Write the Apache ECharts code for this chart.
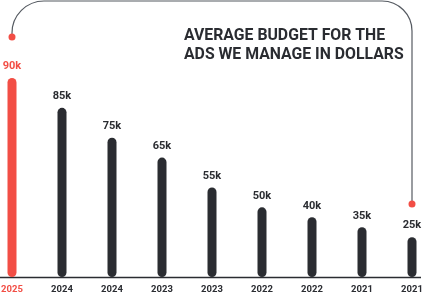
<!DOCTYPE html>
<html><head><meta charset="utf-8">
<script src="https://cdn.jsdelivr.net/npm/echarts@6/dist/echarts.min.js"></script>
<style>html,body{margin:0;padding:0;background:#fff;}#c{width:424px;height:295px;}</style>
</head><body><div id="c"></div>
<script>
var years = ['2025','2024','2024','2023','2023','2022','2022','2021','2021'];
var valueLabels = ['90k','85k','75k','65k','55k','50k','40k','35k','25k'];
// relative bar heights as drawn in the picture (tallest = 100)
var barLevels = [100, 85, 70, 60, 45, 35, 30, 25, 20];
var titleLines = ['AVERAGE BUDGET FOR THE', 'ADS WE MANAGE IN DOLLARS'];

var RED = '#f24e45', DARK = '#2a2c31', LINE = '#555a61';
var FONT = 'Roboto';
var lineStyle = {stroke: LINE, lineWidth: 1.2, fill: null};
var chart = echarts.init(document.getElementById('c'), null, {renderer: 'canvas'});
chart.setOption({
  animation: false,
  grid: {left: -13, width: 450, top: 78, bottom: 18, containLabel: false, outerBoundsMode: 'none'},
  xAxis: {
    type: 'category', data: years, boundaryGap: true,
    axisLine: {show: false}, axisTick: {show: false},
    axisLabel: {
      margin: 8, fontFamily: FONT, fontWeight: 'bold', fontSize: 9.5,
      color: function (v, i) { return i === 0 ? RED : DARK; }
    }
  },
  yAxis: {type: 'value', min: 0, max: 100, show: false, splitLine: {show: false}},
  graphic: [
    {type: 'line', z: 0, shape: {x1: 0, y1: 277.5, x2: 421, y2: 277.5}, style: {stroke: DARK, lineWidth: 1.5}},
    {type: 'line', z: 0, shape: {x1: 12, y1: 37, x2: 12, y2: 33}, style: lineStyle},
    {type: 'arc', z: 0, shape: {cx: 44, cy: 33, r: 32, startAngle: Math.PI, endAngle: Math.PI * 1.5}, style: lineStyle},
    {type: 'line', z: 0, shape: {x1: 44, y1: 1, x2: 382, y2: 1}, style: lineStyle},
    {type: 'arc', z: 0, shape: {cx: 382, cy: 31, r: 30, startAngle: Math.PI * 1.5, endAngle: Math.PI * 2}, style: lineStyle},
    {type: 'line', z: 0, shape: {x1: 412, y1: 31, x2: 412, y2: 204}, style: lineStyle},
    {type: 'circle', shape: {cx: 12, cy: 37, r: 3.5}, style: {fill: RED}},
    {type: 'circle', shape: {cx: 412, cy: 204, r: 3.5}, style: {fill: RED}},
    {type: 'text', left: 184, top: 27, style: {text: titleLines.join('\n'), fill: DARK,
      font: 'bold 15.8px ' + FONT, lineHeight: 19}}
  ],
  series: [{
    type: 'bar', barWidth: 9,
    data: barLevels.map(function (v, i) {
      var c = i === 0 ? RED : DARK;
      return {value: v, itemStyle: {color: c}, label: {color: c}};
    }),
    itemStyle: {borderRadius: 4.5},
    label: {
      show: true, position: 'top', distance: 6,
      fontFamily: FONT, fontWeight: 'bold', fontSize: 11,
      formatter: function (p) { return valueLabels[p.dataIndex]; }
    }
  }]
});
</script></body></html>
